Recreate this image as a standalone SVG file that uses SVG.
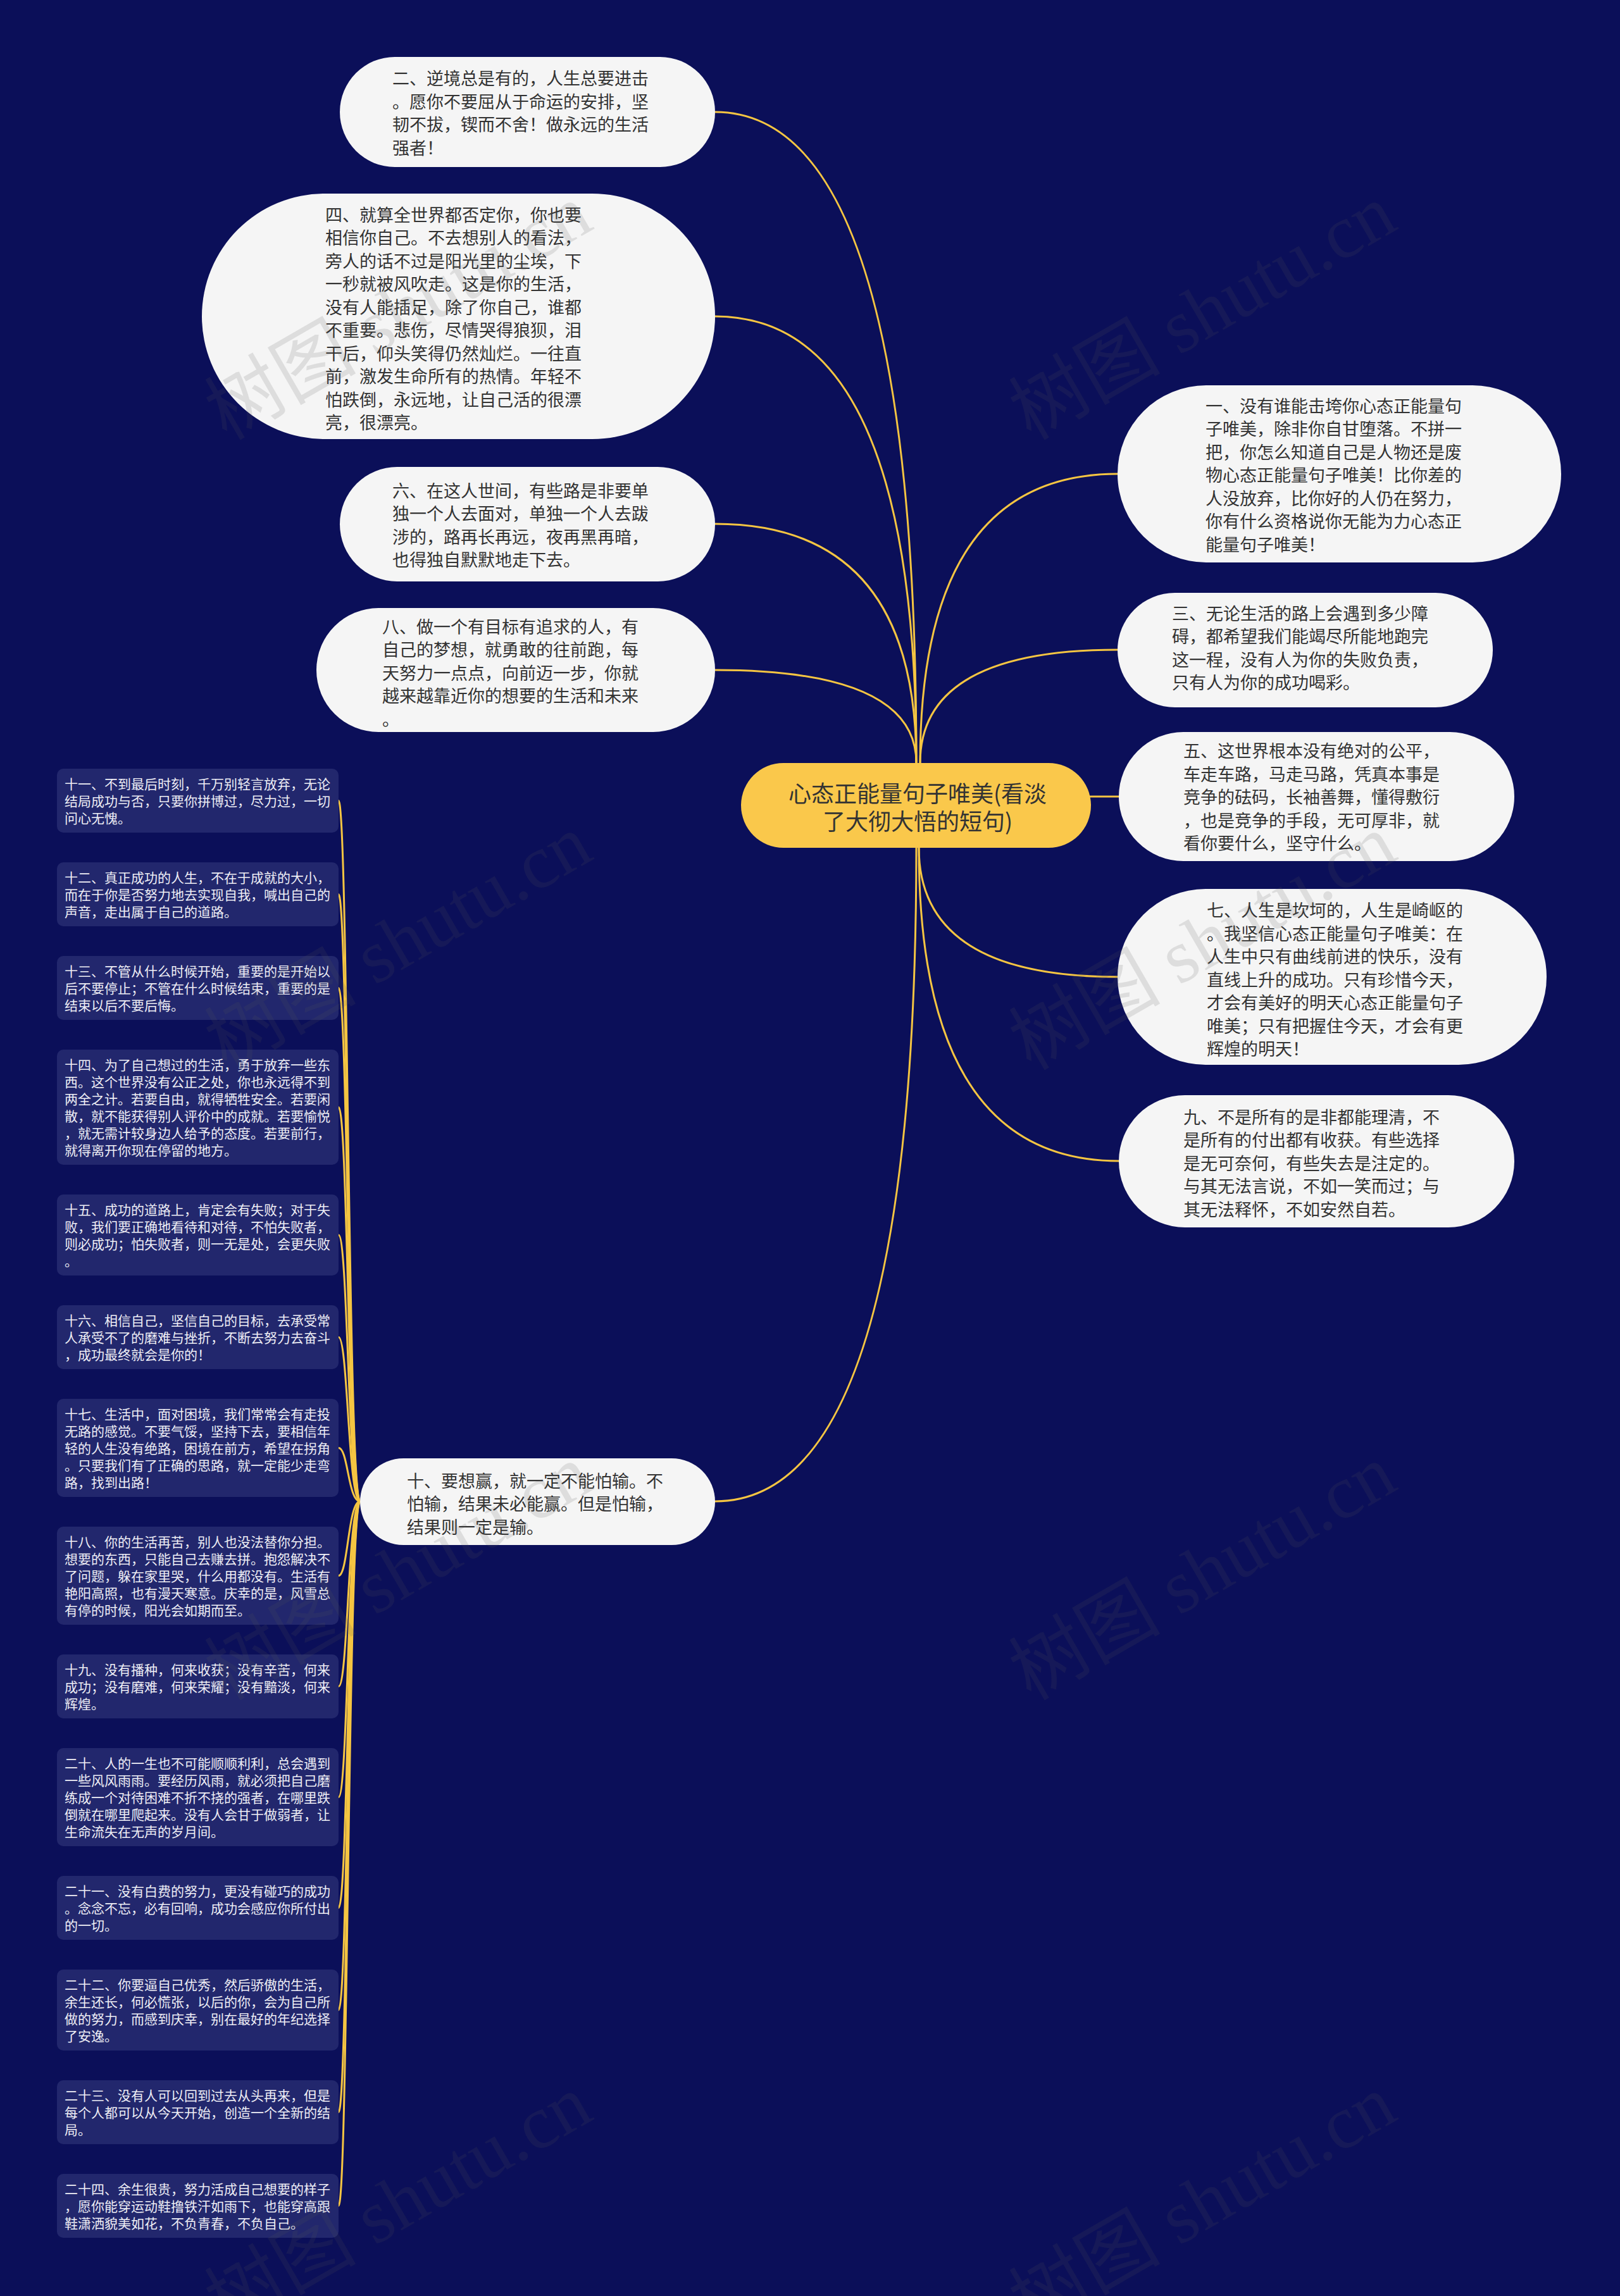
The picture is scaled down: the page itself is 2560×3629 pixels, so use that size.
<svg xmlns="http://www.w3.org/2000/svg" width="2560" height="3629" viewBox="0 0 2560 3629">
<style>
.bg{fill:#0b0f59}
.conn{fill:none;stroke:#f5c542;stroke-width:3}
.wn{fill:#f5f5f5}
.wt{font-family:"Noto Sans CJK SC","Noto Sans",sans-serif;font-size:27px;fill:#333333;dominant-baseline:central}
.root{fill:#fac84b}
.rt{font-family:"Noto Sans CJK SC","Noto Sans",sans-serif;font-size:36px;fill:#333333;dominant-baseline:central;text-anchor:middle}
.lb{fill:#22276d}
.lt{font-family:"Noto Sans CJK SC","Noto Sans",sans-serif;font-size:21px;fill:#eeeef5;dominant-baseline:central}
.wm{font-family:"Liberation Serif","Noto Sans CJK SC",serif;font-size:120px;fill:#555555;fill-opacity:0.15}
</style>
<rect class="bg" x="0" y="0" width="2560" height="3629"/>

<g id="connectors">
  <path class="conn" d="M1130 177 Q1448 177 1448 1206"/>
  <path class="conn" d="M1130 500 Q1448 500 1448 1206"/>
  <path class="conn" d="M1130 828 Q1448 828 1448 1206"/>
  <path class="conn" d="M1130 1059 Q1448 1059 1448 1206"/>
  <path class="conn" d="M1766 749 Q1454 749 1454 1206"/>
  <path class="conn" d="M1766 1027 Q1454 1027 1454 1206"/>
  <path class="conn" d="M1720 1259 L1768 1259"/>
  <path class="conn" d="M1766 1544 Q1452 1544 1452 1340"/>
  <path class="conn" d="M1768 1835 Q1452 1835 1452 1340"/>
  <path class="conn" d="M1130 2373 Q1448 2373 1448 1340"/>
  <path class="conn" d="M569 2373 C550 2373 550 1265.5 535 1265.5"/>
  <path class="conn" d="M569 2373 C550 2373 550 1413.5 535 1413.5"/>
  <path class="conn" d="M569 2373 C550 2373 550 1561.5 535 1561.5"/>
  <path class="conn" d="M569 2373 C550 2373 550 1750 535 1750"/>
  <path class="conn" d="M569 2373 C550 2373 550 1952 535 1952"/>
  <path class="conn" d="M569 2373 C550 2373 550 2113.5 535 2113.5"/>
  <path class="conn" d="M569 2373 C550 2373 550 2288.5 535 2288.5"/>
  <path class="conn" d="M569 2373 C550 2373 550 2490.5 535 2490.5"/>
  <path class="conn" d="M569 2373 C550 2373 550 2665.5 535 2665.5"/>
  <path class="conn" d="M569 2373 C550 2373 550 2840.5 535 2840.5"/>
  <path class="conn" d="M569 2373 C550 2373 550 3015.5 535 3015.5"/>
  <path class="conn" d="M569 2373 C550 2373 550 3177 535 3177"/>
  <path class="conn" d="M569 2373 C550 2373 550 3338.5 535 3338.5"/>
  <path class="conn" d="M569 2373 C550 2373 550 3486.5 535 3486.5"/>
</g>

<g id="root">
  <rect class="root" x="1171" y="1206" width="553" height="134" rx="67"/>
  <text class="rt"><tspan x="1450" y="1252">心态正能量句子唯美(看淡</tspan><tspan x="1450" y="1296">了大彻大悟的短句)</tspan></text>
</g>

<g id="n2">
  <rect class="wn" x="537" y="90" width="593" height="174" rx="87"/>
  <text class="wt"><tspan x="620" y="122">二、逆境总是有的，人生总要进击</tspan><tspan x="620" y="159">。愿你不要屈从于命运的安排，坚</tspan><tspan x="620" y="195">韧不拔，锲而不舍！做永远的生活</tspan><tspan x="620" y="232">强者！</tspan></text>
</g>

<g id="n4">
  <rect class="wn" x="319" y="306" width="811" height="388" rx="194"/>
  <text class="wt"><tspan x="514" y="338">四、就算全世界都否定你，你也要</tspan><tspan x="514" y="374">相信你自己。不去想别人的看法，</tspan><tspan x="514" y="411">旁人的话不过是阳光里的尘埃，下</tspan><tspan x="514" y="447">一秒就被风吹走。这是你的生活，</tspan><tspan x="514" y="484">没有人能插足，除了你自己，谁都</tspan><tspan x="514" y="520">不重要。悲伤，尽情哭得狼狈，泪</tspan><tspan x="514" y="557">干后，仰头笑得仍然灿烂。一往直</tspan><tspan x="514" y="593">前，激发生命所有的热情。年轻不</tspan><tspan x="514" y="630">怕跌倒，永远地，让自己活的很漂</tspan><tspan x="514" y="666">亮，很漂亮。</tspan></text>
</g>

<g id="n6">
  <rect class="wn" x="537" y="738" width="593" height="181" rx="90.5"/>
  <text class="wt"><tspan x="620" y="774">六、在这人世间，有些路是非要单</tspan><tspan x="620" y="810">独一个人去面对，单独一个人去跋</tspan><tspan x="620" y="847">涉的，路再长再远，夜再黑再暗，</tspan><tspan x="620" y="883">也得独自默默地走下去。</tspan></text>
</g>

<g id="n8">
  <rect class="wn" x="500" y="961" width="630" height="196" rx="98"/>
  <text class="wt"><tspan x="604" y="989">八、做一个有目标有追求的人，有</tspan><tspan x="604" y="1025">自己的梦想，就勇敢的往前跑，每</tspan><tspan x="604" y="1062">天努力一点点，向前迈一步，你就</tspan><tspan x="604" y="1098">越来越靠近你的想要的生活和未来</tspan><tspan x="604" y="1135">。</tspan></text>
</g>

<g id="n1">
  <rect class="wn" x="1766" y="609" width="701" height="280" rx="140"/>
  <text class="wt"><tspan x="1905" y="640">一、没有谁能击垮你心态正能量句</tspan><tspan x="1905" y="676">子唯美，除非你自甘堕落。不拼一</tspan><tspan x="1905" y="713">把，你怎么知道自己是人物还是废</tspan><tspan x="1905" y="749">物心态正能量句子唯美！比你差的</tspan><tspan x="1905" y="786">人没放弃，比你好的人仍在努力，</tspan><tspan x="1905" y="822">你有什么资格说你无能为力心态正</tspan><tspan x="1905" y="859">能量句子唯美！</tspan></text>
</g>

<g id="n3">
  <rect class="wn" x="1766" y="937" width="593" height="181" rx="90.5"/>
  <text class="wt"><tspan x="1852" y="968">三、无论生活的路上会遇到多少障</tspan><tspan x="1852" y="1004">碍，都希望我们能竭尽所能地跑完</tspan><tspan x="1852" y="1041">这一程，没有人为你的失败负责，</tspan><tspan x="1852" y="1077">只有人为你的成功喝彩。</tspan></text>
</g>

<g id="n5">
  <rect class="wn" x="1768" y="1157" width="625" height="204" rx="102"/>
  <text class="wt"><tspan x="1870" y="1185">五、这世界根本没有绝对的公平，</tspan><tspan x="1870" y="1222">车走车路，马走马路，凭真本事是</tspan><tspan x="1870" y="1258">竞争的砝码，长袖善舞，懂得敷衍</tspan><tspan x="1870" y="1295">，也是竞争的手段，无可厚非，就</tspan><tspan x="1870" y="1331">看你要什么，坚守什么。</tspan></text>
</g>

<g id="n7">
  <rect class="wn" x="1766" y="1405" width="678" height="278" rx="139"/>
  <text class="wt"><tspan x="1907" y="1437">七、人生是坎坷的，人生是崎岖的</tspan><tspan x="1907" y="1474">。我坚信心态正能量句子唯美：在</tspan><tspan x="1907" y="1510">人生中只有曲线前进的快乐，没有</tspan><tspan x="1907" y="1547">直线上升的成功。只有珍惜今天，</tspan><tspan x="1907" y="1583">才会有美好的明天心态正能量句子</tspan><tspan x="1907" y="1620">唯美；只有把握住今天，才会有更</tspan><tspan x="1907" y="1656">辉煌的明天！</tspan></text>
</g>

<g id="n9">
  <rect class="wn" x="1768" y="1731" width="625" height="209" rx="104.5"/>
  <text class="wt"><tspan x="1870" y="1764">九、不是所有的是非都能理清，不</tspan><tspan x="1870" y="1800">是所有的付出都有收获。有些选择</tspan><tspan x="1870" y="1837">是无可奈何，有些失去是注定的。</tspan><tspan x="1870" y="1873">与其无法言说，不如一笑而过；与</tspan><tspan x="1870" y="1910">其无法释怀，不如安然自若。</tspan></text>
</g>

<g id="n10">
  <rect class="wn" x="569" y="2305" width="561" height="137" rx="68.5"/>
  <text class="wt"><tspan x="643" y="2339">十、要想赢，就一定不能怕输。不</tspan><tspan x="643" y="2375">怕输，结果未必能赢。但是怕输，</tspan><tspan x="643" y="2412">结果则一定是输。</tspan></text>
</g>

<g id="n11">
  <rect class="lb" x="90" y="1215" width="445" height="101" rx="10"/>
  <text class="lt"><tspan x="102" y="1238">十一、不到最后时刻，千万别轻言放弃，无论</tspan><tspan x="102" y="1265">结局成功与否，只要你拼博过，尽力过，一切</tspan><tspan x="102" y="1292">问心无愧。</tspan></text>
</g>
<g id="n12">
  <rect class="lb" x="90" y="1363" width="445" height="101" rx="10"/>
  <text class="lt"><tspan x="102" y="1386">十二、真正成功的人生，不在于成就的大小，</tspan><tspan x="102" y="1413">而在于你是否努力地去实现自我，喊出自己的</tspan><tspan x="102" y="1440">声音，走出属于自己的道路。</tspan></text>
</g>
<g id="n13">
  <rect class="lb" x="90" y="1511" width="445" height="101" rx="10"/>
  <text class="lt"><tspan x="102" y="1534">十三、不管从什么时候开始，重要的是开始以</tspan><tspan x="102" y="1561">后不要停止；不管在什么时候结束，重要的是</tspan><tspan x="102" y="1588">结束以后不要后悔。</tspan></text>
</g>
<g id="n14">
  <rect class="lb" x="90" y="1659" width="445" height="182" rx="10"/>
  <text class="lt"><tspan x="102" y="1682">十四、为了自己想过的生活，勇于放弃一些东</tspan><tspan x="102" y="1709">西。这个世界没有公正之处，你也永远得不到</tspan><tspan x="102" y="1736">两全之计。若要自由，就得牺牲安全。若要闲</tspan><tspan x="102" y="1763">散，就不能获得别人评价中的成就。若要愉悦</tspan><tspan x="102" y="1790">，就无需计较身边人给予的态度。若要前行，</tspan><tspan x="102" y="1817">就得离开你现在停留的地方。</tspan></text>
</g>
<g id="n15">
  <rect class="lb" x="90" y="1888" width="445" height="128" rx="10"/>
  <text class="lt"><tspan x="102" y="1911">十五、成功的道路上，肯定会有失败；对于失</tspan><tspan x="102" y="1938">败，我们要正确地看待和对待，不怕失败者，</tspan><tspan x="102" y="1965">则必成功；怕失败者，则一无是处，会更失败</tspan><tspan x="102" y="1992">。</tspan></text>
</g>
<g id="n16">
  <rect class="lb" x="90" y="2063" width="445" height="101" rx="10"/>
  <text class="lt"><tspan x="102" y="2086">十六、相信自己，坚信自己的目标，去承受常</tspan><tspan x="102" y="2113">人承受不了的磨难与挫折，不断去努力去奋斗</tspan><tspan x="102" y="2140">，成功最终就会是你的！</tspan></text>
</g>
<g id="n17">
  <rect class="lb" x="90" y="2211" width="445" height="155" rx="10"/>
  <text class="lt"><tspan x="102" y="2234">十七、生活中，面对困境，我们常常会有走投</tspan><tspan x="102" y="2261">无路的感觉。不要气馁，坚持下去，要相信年</tspan><tspan x="102" y="2288">轻的人生没有绝路，困境在前方，希望在拐角</tspan><tspan x="102" y="2315">。只要我们有了正确的思路，就一定能少走弯</tspan><tspan x="102" y="2342">路，找到出路！</tspan></text>
</g>
<g id="n18">
  <rect class="lb" x="90" y="2413" width="445" height="155" rx="10"/>
  <text class="lt"><tspan x="102" y="2436">十八、你的生活再苦，别人也没法替你分担。</tspan><tspan x="102" y="2463">想要的东西，只能自己去赚去拼。抱怨解决不</tspan><tspan x="102" y="2490">了问题，躲在家里哭，什么用都没有。生活有</tspan><tspan x="102" y="2517">艳阳高照，也有漫天寒意。庆幸的是，风雪总</tspan><tspan x="102" y="2544">有停的时候，阳光会如期而至。</tspan></text>
</g>
<g id="n19">
  <rect class="lb" x="90" y="2615" width="445" height="101" rx="10"/>
  <text class="lt"><tspan x="102" y="2638">十九、没有播种，何来收获；没有辛苦，何来</tspan><tspan x="102" y="2665">成功；没有磨难，何来荣耀；没有黯淡，何来</tspan><tspan x="102" y="2692">辉煌。</tspan></text>
</g>
<g id="n20">
  <rect class="lb" x="90" y="2763" width="445" height="155" rx="10"/>
  <text class="lt"><tspan x="102" y="2786">二十、人的一生也不可能顺顺利利，总会遇到</tspan><tspan x="102" y="2813">一些风风雨雨。要经历风雨，就必须把自己磨</tspan><tspan x="102" y="2840">练成一个对待困难不折不挠的强者，在哪里跌</tspan><tspan x="102" y="2867">倒就在哪里爬起来。没有人会甘于做弱者，让</tspan><tspan x="102" y="2894">生命流失在无声的岁月间。</tspan></text>
</g>
<g id="n21">
  <rect class="lb" x="90" y="2965" width="445" height="101" rx="10"/>
  <text class="lt"><tspan x="102" y="2988">二十一、没有白费的努力，更没有碰巧的成功</tspan><tspan x="102" y="3015">。念念不忘，必有回响，成功会感应你所付出</tspan><tspan x="102" y="3042">的一切。</tspan></text>
</g>
<g id="n22">
  <rect class="lb" x="90" y="3113" width="445" height="128" rx="10"/>
  <text class="lt"><tspan x="102" y="3136">二十二、你要逼自己优秀，然后骄傲的生活，</tspan><tspan x="102" y="3163">余生还长，何必慌张，以后的你，会为自己所</tspan><tspan x="102" y="3190">做的努力，而感到庆幸，别在最好的年纪选择</tspan><tspan x="102" y="3217">了安逸。</tspan></text>
</g>
<g id="n23">
  <rect class="lb" x="90" y="3288" width="445" height="101" rx="10"/>
  <text class="lt"><tspan x="102" y="3311">二十三、没有人可以回到过去从头再来，但是</tspan><tspan x="102" y="3338">每个人都可以从今天开始，创造一个全新的结</tspan><tspan x="102" y="3365">局。</tspan></text>
</g>
<g id="n24">
  <rect class="lb" x="90" y="3436" width="445" height="101" rx="10"/>
  <text class="lt"><tspan x="102" y="3459">二十四、余生很贵，努力活成自己想要的样子</tspan><tspan x="102" y="3486">，愿你能穿运动鞋撸铁汗如雨下，也能穿高跟</tspan><tspan x="102" y="3513">鞋潇洒貌美如花，不负青春，不负自己。</tspan></text>
</g>

<g id="watermark">
  <text class="wm" x="358" y="697" transform="rotate(-30 358 697)">树图 shutu.cn</text>
  <text class="wm" x="1629" y="697" transform="rotate(-30 1629 697)">树图 shutu.cn</text>
  <text class="wm" x="358" y="1693" transform="rotate(-30 358 1693)">树图 shutu.cn</text>
  <text class="wm" x="1629" y="1693" transform="rotate(-30 1629 1693)">树图 shutu.cn</text>
  <text class="wm" x="358" y="2689" transform="rotate(-30 358 2689)">树图 shutu.cn</text>
  <text class="wm" x="1629" y="2689" transform="rotate(-30 1629 2689)">树图 shutu.cn</text>
  <text class="wm" x="358" y="3685" transform="rotate(-30 358 3685)">树图 shutu.cn</text>
  <text class="wm" x="1629" y="3685" transform="rotate(-30 1629 3685)">树图 shutu.cn</text>
</g>
</svg>
